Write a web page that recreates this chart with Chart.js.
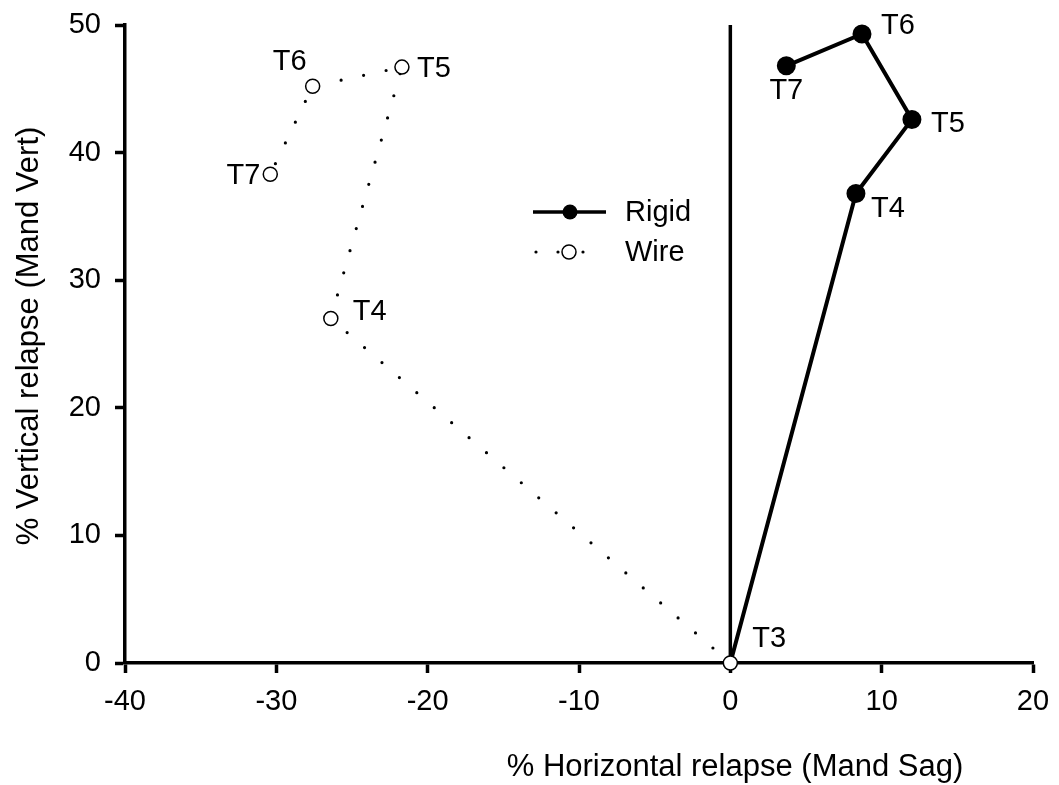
<!DOCTYPE html>
<html>
<head>
<meta charset="utf-8">
<script src="https://cdn.jsdelivr.net/npm/chart.js@4.4.1/dist/chart.umd.min.js"></script>
<style>
  html, body { margin: 0; padding: 0; background: #fff; }
  #chart { display: block; }
</style>
</head>
<body>
<canvas id="chart" width="1059" height="785"></canvas>
<script>
// Stage names along each path
const stages = ["T3", "T4", "T5", "T6", "T7"];

// % horizontal / vertical relapse at each stage
const rigidX = [0, 8.3, 12.0, 8.7, 3.7];
const rigidY = [0, 36.8, 42.6, 49.3, 46.8];
const wireX = [0, -26.4, -21.7, -27.6, -30.4];
const wireY = [0, 27.0, 46.7, 45.2, 38.3];

// Reference line at zero horizontal relapse
const zeroLineX = [0, 0];
const zeroLineY = [0, 50];

const xTicks = [-40, -30, -20, -10, 0, 10, 20];
const yTicks = [0, 10, 20, 30, 40, 50];

const xTitle = "% Horizontal relapse (Mand Sag)";
const yTitle = "% Vertical relapse (Mand Vert)";

const FONT = "'Liberation Sans', Arial, sans-serif";

const toPoints = (xs, ys) => xs.map((x, i) => ({ x: x, y: ys[i] }));

// where each stage label sits relative to its marker: [dx, dy, align]
const labelPlacement = {
  rigid: [[22, -24, "left"], [15, 16, "left"], [19, 5, "left"], [19, -8, "left"], [0, 25, "center"]],
  wire: [null, [22, -6, "left"], [15, 2, "left"], [-23, -24, "center"], [-10, 2, "right"]],
};

const stageLabels = {
  id: "stageLabels",
  afterDatasetsDraw(chart) {
    const ctx = chart.ctx;
    ctx.save();
    ctx.font = "29px " + FONT;
    ctx.fillStyle = "#000";
    ctx.textBaseline = "middle";
    chart.data.datasets.forEach((ds, i) => {
      const place = labelPlacement[ds.key];
      if (!place) return;
      const meta = chart.getDatasetMeta(i);
      meta.data.forEach((pt, j) => {
        const p = place[j];
        if (!p) return;
        ctx.textAlign = p[2];
        ctx.fillText(stages[j], pt.x + p[0], pt.y + p[1]);
      });
    });
    ctx.restore();
  },
};

// axis titles: the horizontal one is centred under the zero line area, not the full axis
const axisTitles = {
  id: "axisTitles",
  afterDraw(chart) {
    const ctx = chart.ctx;
    ctx.save();
    ctx.fillStyle = "#000";
    ctx.font = "31px " + FONT;
    ctx.textAlign = "center";
    ctx.textBaseline = "middle";
    ctx.fillText(xTitle, 735, 767);
    ctx.translate(29, 336);
    ctx.rotate(-Math.PI / 2);
    ctx.fillText(yTitle, 0, 0);
    ctx.restore();
  },
};

// legend sits inside the plot, left of the zero line
const insideLegend = {
  id: "insideLegend",
  afterDraw(chart) {
    const ctx = chart.ctx;
    ctx.save();
    // Rigid
    ctx.strokeStyle = "#000";
    ctx.lineWidth = 3.5;
    ctx.beginPath();
    ctx.moveTo(533, 212);
    ctx.lineTo(606, 212);
    ctx.stroke();
    ctx.fillStyle = "#000";
    ctx.beginPath();
    ctx.arc(570, 212, 7.5, 0, Math.PI * 2);
    ctx.fill();
    // Wire
    [536, 558, 583].forEach((x) => {
      ctx.beginPath();
      ctx.arc(x, 252, 1.6, 0, Math.PI * 2);
      ctx.fill();
    });
    ctx.fillStyle = "#fff";
    ctx.lineWidth = 1.5;
    ctx.beginPath();
    ctx.arc(569, 252, 7, 0, Math.PI * 2);
    ctx.fill();
    ctx.stroke();
    // text
    ctx.fillStyle = "#000";
    ctx.font = "29px " + FONT;
    ctx.textAlign = "left";
    ctx.textBaseline = "middle";
    ctx.fillText("Rigid", 625, 213);
    ctx.fillText("Wire", 625, 253);
    ctx.restore();
  },
};

const axisStyle = {
  border: { display: true, color: "#000", width: 3.5 },
  grid: {
    display: true,
    drawOnChartArea: false,
    drawTicks: true,
    tickLength: 10,
    tickWidth: 3.5,
    tickColor: "#000",
  },
};

new Chart(document.getElementById("chart"), {
  type: "scatter",
  data: {
    datasets: [
      {
        key: "zero",
        data: toPoints(zeroLineX, zeroLineY),
        showLine: true,
        borderColor: "#000",
        borderWidth: 3.5,
        pointRadius: 0,
        order: 3,
      },
      {
        key: "rigid",
        label: "Rigid",
        data: toPoints(rigidX, rigidY),
        showLine: true,
        borderColor: "#000",
        borderWidth: 4,
        backgroundColor: "#000",
        pointBackgroundColor: "#000",
        pointBorderColor: "#000",
        pointRadius: [0, 7.5, 7.5, 7.5, 7.5],
        clip: false,
        order: 2,
      },
      {
        key: "wire",
        label: "Wire",
        data: toPoints(wireX, wireY),
        showLine: true,
        borderColor: "#000",
        borderWidth: 3.2,
        borderDash: [0, 23],
        borderCapStyle: "round",
        pointBackgroundColor: "#fff",
        pointBorderColor: "#000",
        pointBorderWidth: 1.5,
        pointRadius: 7,
        clip: false,
        order: 1,
      },
    ],
  },
  options: {
    responsive: false,
    animation: false,
    layout: { padding: { top: 25, right: 26, left: 0, bottom: 0 } },
    plugins: {
      legend: { display: false },
      tooltip: { enabled: false },
    },
    scales: {
      x: {
        type: "linear",
        min: -40,
        max: 20,
        ...axisStyle,
        afterBuildTicks: (scale) => { scale.ticks = xTicks.map((v) => ({ value: v })); },
        afterFit: (scale) => {
          scale.height = 122;
          scale.paddingLeft = 0;
          scale.paddingRight = 0;
        },
        ticks: {
          color: "#000",
          padding: 12,
          font: { family: FONT, size: 29 },
        },
      },
      y: {
        type: "linear",
        min: 0,
        max: 50,
        ...axisStyle,
        afterBuildTicks: (scale) => { scale.ticks = yTicks.map((v) => ({ value: v })); },
        afterFit: (scale) => {
          scale.width = 125;
          scale.paddingTop = 0;
          scale.paddingBottom = 0;
        },
        ticks: {
          color: "#000",
          padding: 14,
          font: { family: FONT, size: 29 },
        },
      },
    },
  },
  plugins: [stageLabels, axisTitles, insideLegend],
});
</script>
</body>
</html>
